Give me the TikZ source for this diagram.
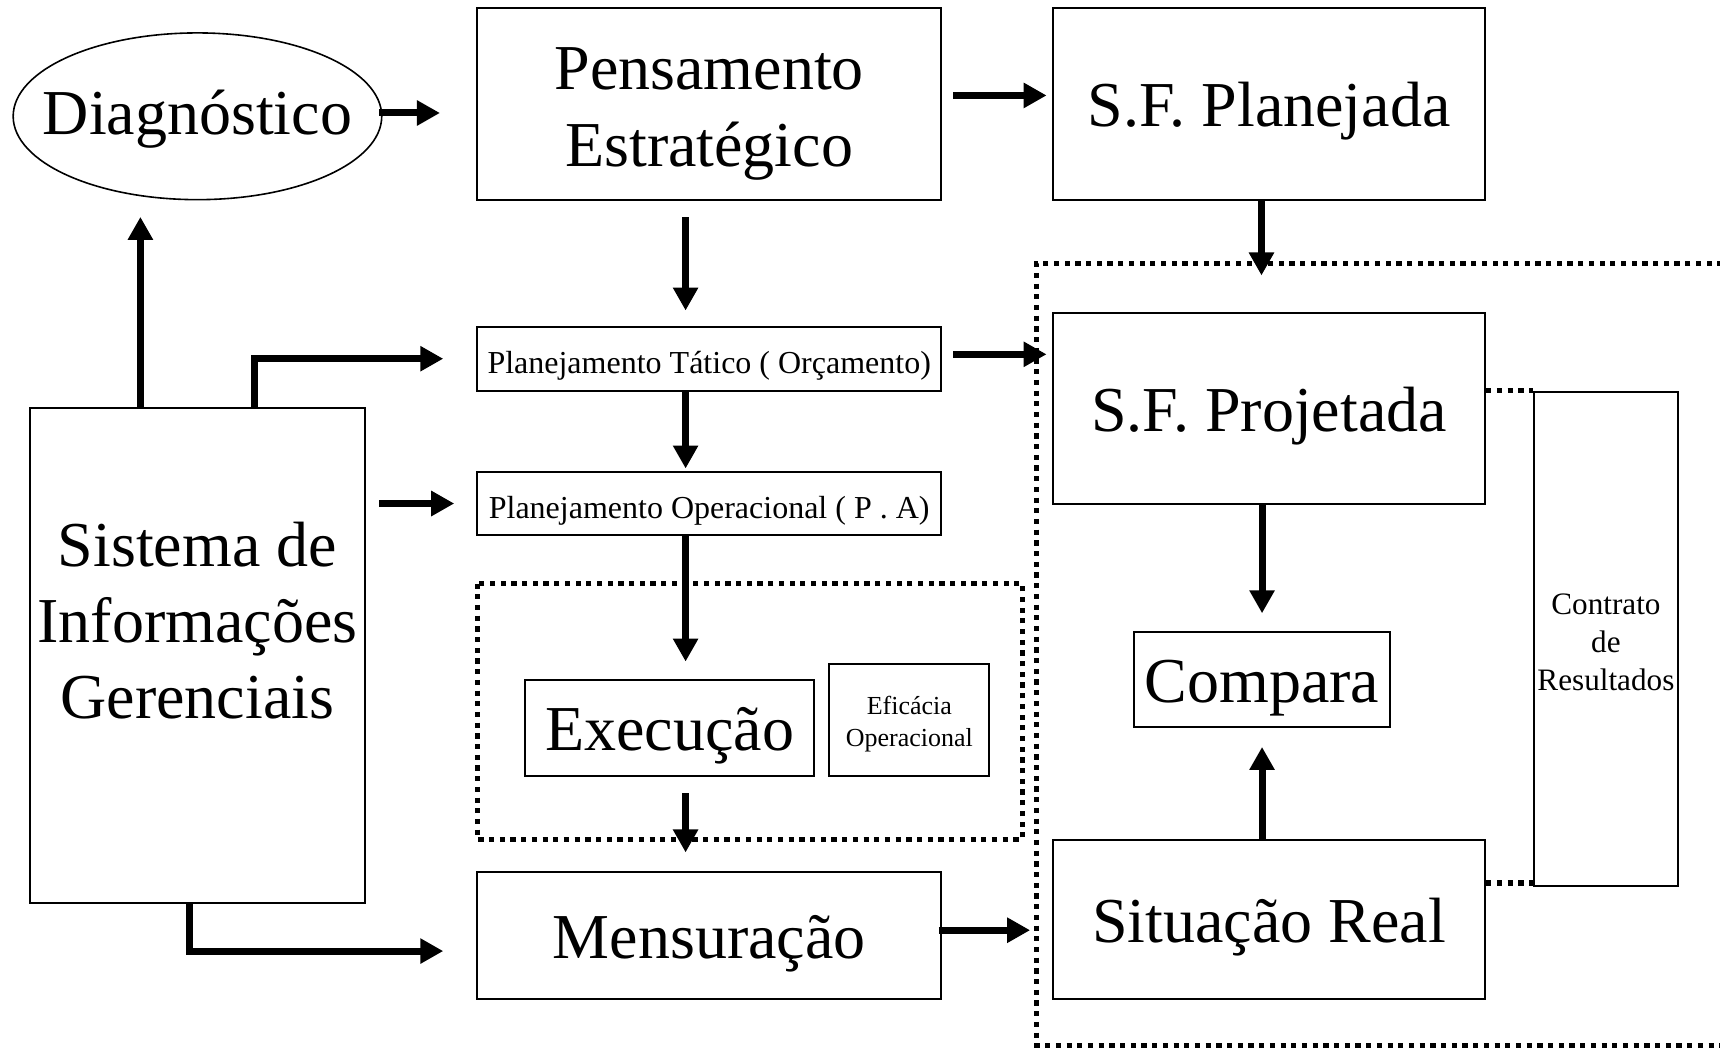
\documentclass[tikz,border=0pt]{standalone}
\usepackage{fontspec}
\setmainfont{Liberation Serif}
\usetikzlibrary{arrows.meta,shapes.geometric,calc}
\def\px{0.5485pt}
\tikzset{
  boxnode/.style={draw, line width=1pt, rectangle, inner sep=0pt, align=center},
  bigtext/.style={font=\fontsize{32pt}{38.5pt}\selectfont, text height=23pt, text depth=0pt},
  bigmulti/.style={font=\fontsize{32pt}{38.5pt}\selectfont, align=center, inner sep=0pt},
  midtext/.style={font=\fontsize{16pt}{19pt}\selectfont, text height=14.6pt, text depth=0pt},
  plaintext/.style={inner sep=0pt, align=center},
  arr/.style={line width=3.5pt, -{Triangle[width=12pt,length=11.5pt]}},
  dotline/.style={line width=2.6pt, dash pattern=on 2.6pt off 2.75pt},
}
\begin{document}
\begin{tikzpicture}[x=0.5485pt, y=-0.5485pt]
\useasboundingbox (0,0) rectangle (1568,957);
\fill[white] (0,0) rectangle (1568,957);

% column helper coordinates
\coordinate (colA) at (625,0);
\coordinate (colB) at (1150,0);
\coordinate (colC) at (128,0);
\coordinate (colD) at (232,0);
\coordinate (colE) at (173,0);
\coordinate (rowE) at (0,867);

% nodes
\node[draw, ellipse, line width=0.8pt, inner sep=0pt, minimum width=336*\px, minimum height=152*\px] (diag) at (180,106) {};
\node[plaintext, anchor=base, font=\fontsize{32pt}{38.5pt}\selectfont] (diagtxt) at (180,123) {Diagnóstico};
\node[boxnode, minimum width=423*\px, minimum height=175*\px] (pens) at (646.5,94.5) {};
\node[plaintext, bigmulti] (penstxt) at (646.5,103.5) {Pensamento\\Estratégico};
\node[boxnode, minimum width=394*\px, minimum height=175*\px, bigtext] (sfplan) at (1157,94.5) {S.F. Planejada};
\node[boxnode, minimum width=423*\px, minimum height=58*\px, midtext] (tat) at (646.5,327) {Planejamento Tático ( Orçamento)};
\node[boxnode, minimum width=423*\px, minimum height=58*\px, midtext] (oper) at (646.5,459) {Planejamento Operacional ( P . A)};
\node[boxnode, minimum width=263*\px, minimum height=87*\px, bigtext] (exec) at (610.5,663.5) {Execução};
\node[boxnode, minimum width=146*\px, minimum height=102*\px] (efic) at (829,656) {};
\node[plaintext, font=\fontsize{13pt}{16pt}\selectfont] (efictxt) at (829,660.5) {Eficácia\\Operacional};
\node[boxnode, minimum width=423*\px, minimum height=116*\px, bigtext] (mens) at (646.5,853) {Mensuração};
\node[boxnode, minimum width=306*\px, minimum height=451*\px] (sis) at (180,597.5) {};
\node[plaintext, font=\fontsize{32pt}{38pt}\selectfont] (sistxt) at (180,566) {Sistema de\\Informações\\Gerenciais};
\node[boxnode, minimum width=394*\px, minimum height=174*\px, bigtext] (sfproj) at (1157,372) {S.F. Projetada};
\node[boxnode, minimum width=233*\px, minimum height=87*\px, bigtext] (comp) at (1150.5,619.5) {Compara};
\node[boxnode, minimum width=394*\px, minimum height=145*\px, bigtext] (sitr) at (1157,838.5) {Situação Real};
\node[boxnode, minimum width=132*\px, minimum height=451*\px] (contr) at (1464,582.5) {};
\node[plaintext, font=\fontsize{15.6pt}{19.2pt}\selectfont] (contrtxt) at (1464,585.5) {Contrato\\de\\Resultados};

% dotted frames
\draw[dotline] (435,532) rectangle (932,765);
\draw[dotline] (1580,240) -- (945,240) -- (945,953) -- (1580,953);
\draw[dotline] (contr.north west -| sfproj.east) -- (contr.north west);
\draw[dotline] (sitr.east |- 0,805) -- (contr.west |- 0,805);

% arrows
\draw[arr, shorten <=-3*\px, shorten >=33*\px] ($(diag.east)+(0,-3)$) -- ($(diag.east -| pens.west)+(0,-3)$);
\draw[arr, shorten <=10*\px, shorten >=5*\px] ($(pens.east)+(0,-7.5)$) -- ($(pens.east -| sfplan.west)+(0,-7.5)$);
\draw[arr, shorten <=15*\px, shorten >=14*\px] (pens.south -| colA) -- (tat.north -| colA);
\draw[arr, shorten >=2*\px] (tat.south -| colA) -- (oper.north -| colA);
\draw[arr, shorten >=16*\px] (oper.south -| colA) -- (exec.north -| colA);
\draw[arr, shorten <=15*\px, shorten >=17*\px] (exec.south -| colA) -- (mens.north -| colA);
\draw[arr, shorten <=10*\px, shorten >=5*\px] ($(tat.east)+(0,-4)$) -- ($(tat.east -| sfproj.west)+(0,-4)$);
\draw[arr, shorten >=33*\px] (sfplan.south -| colB) -- (sfproj.north -| colB);
\draw[arr, shorten >=16*\px] (sfproj.south -| comp.north) -- (comp.north);
\draw[arr, shorten >=17*\px] (sitr.north -| comp.south) -- (comp.south);
\draw[arr, shorten <=-3*\px, shorten >=20*\px] ($(mens.east)+(0,-5)$) -- ($(mens.east -| sitr.west)+(0,-5)$);
\draw[arr, shorten >=15*\px] (sis.north -| colC) -- (diag.south -| colC);
\draw[arr, shorten >=30*\px] (sis.north -| colD) |- (tat.west);
\draw[arr, shorten <=12*\px, shorten >=20*\px] (sis.east |- oper.west) -- (oper.west);
\draw[arr, shorten >=30*\px] (sis.south -| colE) |- (mens.west |- rowE);
\end{tikzpicture}
\end{document}
